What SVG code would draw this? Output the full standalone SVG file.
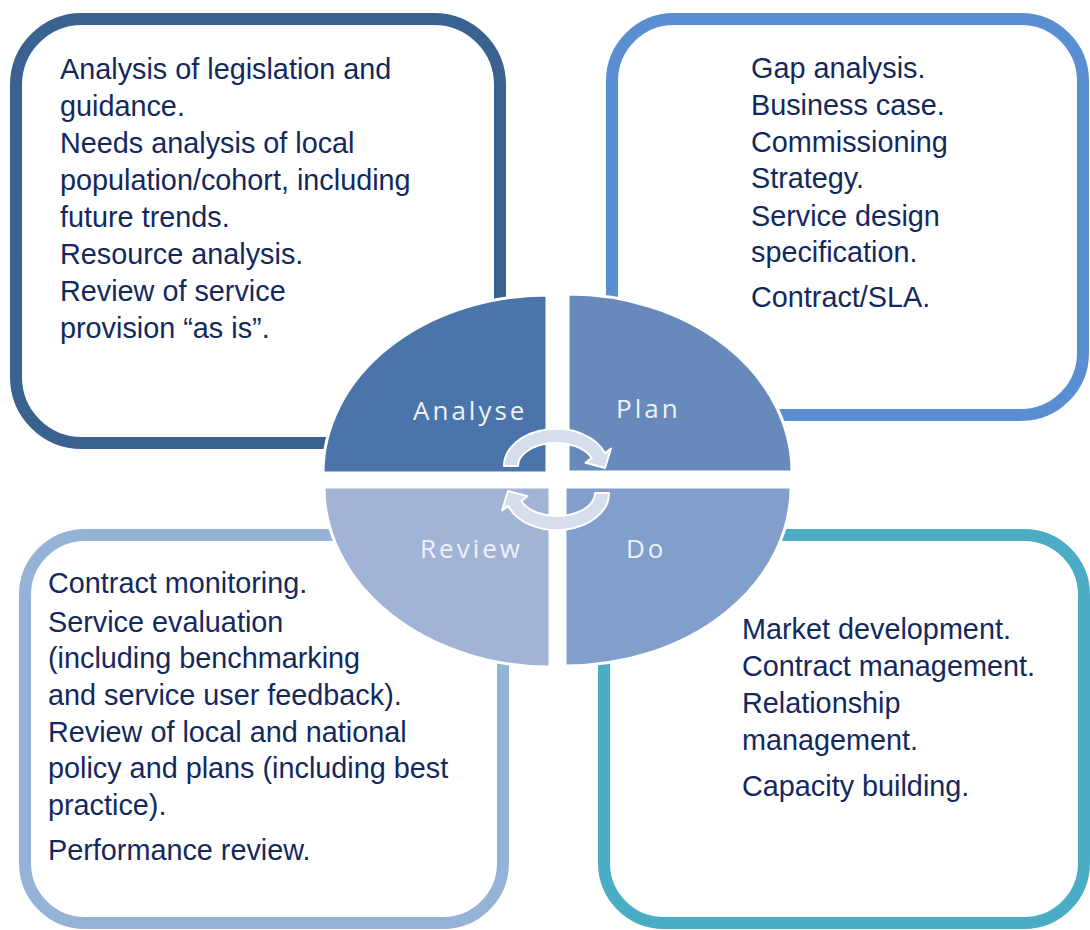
<svg xmlns="http://www.w3.org/2000/svg" width="1090" height="930" viewBox="0 0 1090 930">
  <style>
    .box { fill: #ffffff; stroke-width: 12; }
    .body { font-family: "Liberation Sans", Arial, sans-serif; font-size: 28.8px; fill: #13295E; }
    .quad { stroke: #ffffff; stroke-width: 3; }
    .label { font-family: "Open Sans", "Liberation Sans", sans-serif; font-size: 26px; letter-spacing: 3px; fill: #EEF2F8; }
    .cyc { fill: #D6DDEC; stroke: #ffffff; stroke-width: 2; stroke-linejoin: round; }
  </style>

  <!-- Analyse: detail box -->
  <g id="box-analyse">
    <rect class="box" x="16" y="19" width="484" height="424" rx="66" ry="66" stroke="#3A6291"/>
    <text class="body">
      <tspan x="60" y="79">Analysis of legislation and</tspan>
      <tspan x="60" y="116">guidance.</tspan>
      <tspan x="60" y="153">Needs analysis of local</tspan>
      <tspan x="60" y="190">population/cohort, including</tspan>
      <tspan x="60" y="227">future trends.</tspan>
      <tspan x="60" y="264">Resource analysis.</tspan>
      <tspan x="60" y="301">Review of service</tspan>
      <tspan x="60" y="338">provision “as is”.</tspan>
    </text>
  </g>

  <!-- Plan: detail box -->
  <g id="box-plan">
    <rect class="box" x="612" y="19" width="471" height="396" rx="62" ry="62" stroke="#5A8ED3"/>
    <text class="body">
      <tspan x="751" y="78">Gap analysis.</tspan>
      <tspan x="751" y="115">Business case.</tspan>
      <tspan x="751" y="152">Commissioning</tspan>
      <tspan x="751" y="188">Strategy.</tspan>
      <tspan x="751" y="226">Service design</tspan>
      <tspan x="751" y="262">specification.</tspan>
      <tspan x="751" y="307">Contract/SLA.</tspan>
    </text>
  </g>

  <!-- Review: detail box -->
  <g id="box-review">
    <rect class="box" x="25" y="535" width="478" height="388" rx="60" ry="60" stroke="#95B3D7"/>
    <text class="body">
      <tspan x="48" y="593">Contract monitoring.</tspan>
      <tspan x="48" y="632">Service evaluation</tspan>
      <tspan x="48" y="668">(including benchmarking</tspan>
      <tspan x="48" y="705">and service user feedback).</tspan>
      <tspan x="48" y="742">Review of local and national</tspan>
      <tspan x="48" y="778">policy and plans (including best</tspan>
      <tspan x="48" y="815">practice).</tspan>
      <tspan x="48" y="860">Performance review.</tspan>
    </text>
  </g>

  <!-- Do: detail box -->
  <g id="box-do">
    <rect class="box" x="604" y="535" width="480" height="388" rx="60" ry="60" stroke="#4BACC6"/>
    <text class="body">
      <tspan x="742" y="639">Market development.</tspan>
      <tspan x="742" y="676">Contract management.</tspan>
      <tspan x="742" y="713">Relationship</tspan>
      <tspan x="742" y="750">management.</tspan>
      <tspan x="742" y="796">Capacity building.</tspan>
    </text>
  </g>

  <!-- Central cycle: four exploded quarter-ellipses -->
  <g id="cycle">
    <g id="quad-analyse">
      <path class="quad" fill="#4A74AA" d="M547,473 L323,473 A224 178 0 0 1 547,295 Z"/>
      <text class="label" x="413" y="420">Analyse</text>
    </g>
    <g id="quad-plan">
      <path class="quad" fill="#6789BB" d="M568,472 L568,294 A224 178 0 0 1 792,472 Z"/>
      <text class="label" x="616" y="418">Plan</text>
    </g>
    <g id="quad-review">
      <path class="quad" fill="#A1B4D6" d="M550,487 L550,667 A226 180 0 0 1 324,487 Z"/>
      <text class="label" x="420" y="558" fill="#E9EEF6">Review</text>
    </g>
    <g id="quad-do">
      <path class="quad" fill="#829ECA" d="M565,487 L791,487 A226 179 0 0 1 565,666 Z"/>
      <text class="label" x="626" y="558">Do</text>
    </g>
  </g>

  <!-- Circular arrows between the quadrants -->
  <g id="connectors">
    <path id="arrow-top" class="cyc" d="M504,466 A52 37 0 0 1 604.9,453.3 L611,448.5 L605,468 L585.5,462.8 L591.7,458.1 A38 23 0 0 0 518,466 Z"/>
    <path id="arrow-bottom" class="cyc" transform="rotate(180 556.5 479.5)" d="M504,466 A52 37 0 0 1 604.9,453.3 L611,448.5 L605,468 L585.5,462.8 L591.7,458.1 A38 23 0 0 0 518,466 Z"/>
  </g>
</svg>
